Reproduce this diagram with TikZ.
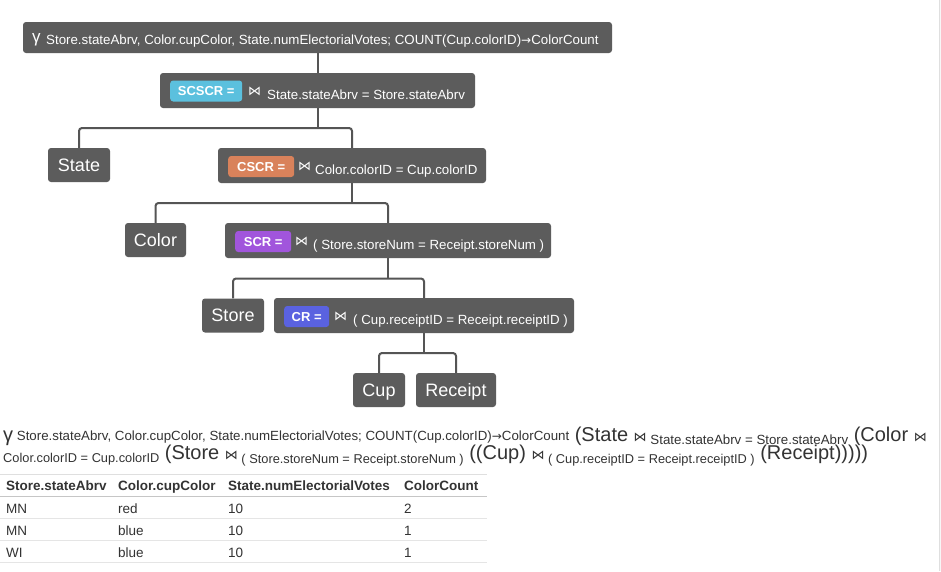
\documentclass[tikz,border=0pt]{standalone}
\usepackage{fontspec}
\setmainfont{Liberation Sans}
\newfontfamily\symf{DejaVu Sans}
\definecolor{nodegray}{HTML}{5C5C5C}
\definecolor{linegray}{HTML}{555555}
\definecolor{bcyan}{HTML}{5BC0DE}
\definecolor{borange}{HTML}{D9825B}
\definecolor{bpurple}{HTML}{A155DC}
\definecolor{bblue}{HTML}{5A62E0}
\definecolor{txt}{HTML}{333333}
\newcommand\fsz[1]{\fontsize{#1}{#1}\selectfont}
\newcommand\smalltxt[2]{{\fsz{13.3}\raisebox{#1}{#2}}}
\newcommand\smalltxtb[2]{{\fsz{12.8}\raisebox{#1}{#2}}}
\newcommand\jn{{\symf\fsz{13}⋈}}
\newcommand\arr{{\symf\fsz{12}→}}
\begin{document}
\begin{tikzpicture}[x=1pt,y=-1pt,
 box/.style={fill=nodegray, rounded corners=3pt, inner sep=0pt, text=white},
 leaf/.style={box, font=\fsz{18}, text height=12.9pt, text depth=0pt, minimum height=34pt},
 badge/.style={rounded corners=3pt, inner sep=0pt, text=white, font=\bfseries\fsz{13}, minimum height=21pt, text height=9.3pt, text depth=0pt, anchor=west},
 lbl/.style={inner sep=0pt, text=white, font=\fsz{13.3}, anchor=base west},
 joinsym/.style={inner sep=0pt, text=white, font=\symf\fsz{13}, anchor=west},
 conn/.style={draw=linegray, line width=2pt, rounded corners=3pt},
 btxt/.style={inner sep=0pt, text=txt, font=\fsz{20}, anchor=base west},
 hdr/.style={inner sep=0pt, text=txt, font=\bfseries\fsz{13.5}, anchor=base west},
 cell/.style={inner sep=0pt, text=txt, font=\fsz{13.5}, anchor=base west},
]
\useasboundingbox (0,0) rectangle (941,571);
\fill[white] (0,0) rectangle (941,571);
\fill[gray!6] (939,0) rectangle (941,571);
\draw[gray!25, line width=0.8pt] (939,0) -- (939,571);

% top grouping node
\node[box, minimum width=589pt, minimum height=31pt] (top) at (317.5,37.5) {};
\node[lbl, font=\fsz{17}] (topg) at (32,42) {γ};
\node[lbl] (topt) at (46,44) {Store.stateAbrv, Color.cupColor, State.numElectorialVotes; COUNT(Cup.colorID)\arr ColorCount};

% SCSCR
\node[box, minimum width=315pt, minimum height=35pt] (scscr) at (317.5,90.5) {};
\node[badge, fill=bcyan, minimum width=72pt] (scscrb) at (170,91) {SCSCR =};
\node[joinsym] (scscrj) at (248,91.5) {⋈};
\node[lbl] (scscrt) at (267,99) {State.stateAbrv = Store.stateAbrv};

% CSCR
\node[box, minimum width=268pt, minimum height=35pt] (cscr) at (352,165.5) {};
\node[badge, fill=borange, minimum width=66pt] (cscrb) at (228,166.5) {CSCR =};
\node[joinsym] (cscrj) at (298,166.5) {⋈};
\node[lbl] (cscrt) at (315,174) {Color.colorID = Cup.colorID};

% SCR
\node[box, minimum width=326pt, minimum height=35pt] (scr) at (388,240.5) {};
\node[badge, fill=bpurple, minimum width=56pt] (scrb) at (235,241.5) {SCR =};
\node[joinsym] (scrj) at (295,241.5) {⋈};
\node[lbl] (scrt) at (313,249) {( Store.storeNum = Receipt.storeNum )};

% CR
\node[box, minimum width=300pt, minimum height=35pt] (cr) at (424,315.5) {};
\node[badge, fill=bblue, minimum width=45pt] (crb) at (284,316.5) {CR =};
\node[joinsym] (crj) at (334,316.5) {⋈};
\node[lbl] (crt) at (353,324) {( Cup.receiptID = Receipt.receiptID )};

% leaves
\node[leaf, minimum width=62pt] (state) at (79,165) {State};
\node[leaf, minimum width=61pt] (color) at (155.5,240) {Color};
\node[leaf, minimum width=62pt] (store) at (233,315.5) {Store};
\node[leaf, minimum width=52pt] (cup) at (379,390) {Cup};
\node[leaf, minimum width=80pt] (receipt) at (456,390) {Receipt};

% connectors
\draw[conn] (top.south) -- (scscr.north);
\coordinate (k1) at (317.5,128);
\draw[conn] (scscr.south) -- (k1);
\draw[conn] (state.north) |- (k1) -| (cscr.north);
\coordinate (k2) at (352,203);
\draw[conn] (cscr.south) -- (k2);
\draw[conn] (color.north) |- (k2) -| (scr.north);
\coordinate (k3) at (388,278.5);
\draw[conn] (scr.south) -- (k3);
\draw[conn] (store.north) |- (k3) -| (cr.north);
\coordinate (k4) at (424,353);
\draw[conn] (cr.south) -- (k4);
\draw[conn] (cup.north) |- (k4) -| (receipt.north);

% expression text
\node[btxt] (expr1) at (3,441) {γ\smalltxt{1pt}{ Store.stateAbrv, Color.cupColor, State.numElectorialVotes; COUNT(Cup.colorID)\arr ColorCount} (State \jn\smalltxt{-3pt}{ State.stateAbrv = Store.stateAbrv} (Color \jn};
\node[btxt] (expr2) at (3,459.5) {\smalltxtb{-3pt}{Color.colorID = Cup.colorID} (Store \jn\smalltxtb{-3.5pt}{ ( Store.storeNum = Receipt.storeNum )} ((Cup) \jn\smalltxtb{-3.5pt}{ ( Cup.receiptID = Receipt.receiptID )} (Receipt)))))};

% table
\draw[gray!25, line width=1pt] (0,474.5) -- (487,474.5);
\node[hdr] (h1) at (6,490) {Store.stateAbrv};
\node[hdr] (h2) at (118,490) {Color.cupColor};
\node[hdr] (h3) at (228,490) {State.numElectorialVotes};
\node[hdr] (h4) at (404,490) {ColorCount};
\draw[gray!45, line width=1.5pt] (0,496.5) -- (487,496.5);
\node[cell] (r1a) at (6,513) {MN};
\node[cell] (r1b) at (118,513) {red};
\node[cell] (r1c) at (228,513) {10};
\node[cell] (r1d) at (404,513) {2};
\draw[gray!20, line width=1pt] (0,518.5) -- (487,518.5);
\node[cell] (r2a) at (6,535) {MN};
\node[cell] (r2b) at (118,535) {blue};
\node[cell] (r2c) at (228,535) {10};
\node[cell] (r2d) at (404,535) {1};
\draw[gray!20, line width=1pt] (0,540.5) -- (487,540.5);
\node[cell] (r3a) at (6,557) {WI};
\node[cell] (r3b) at (118,557) {blue};
\node[cell] (r3c) at (228,557) {10};
\node[cell] (r3d) at (404,557) {1};
\draw[gray!20, line width=1pt] (0,562.5) -- (487,562.5);
\end{tikzpicture}
\end{document}
